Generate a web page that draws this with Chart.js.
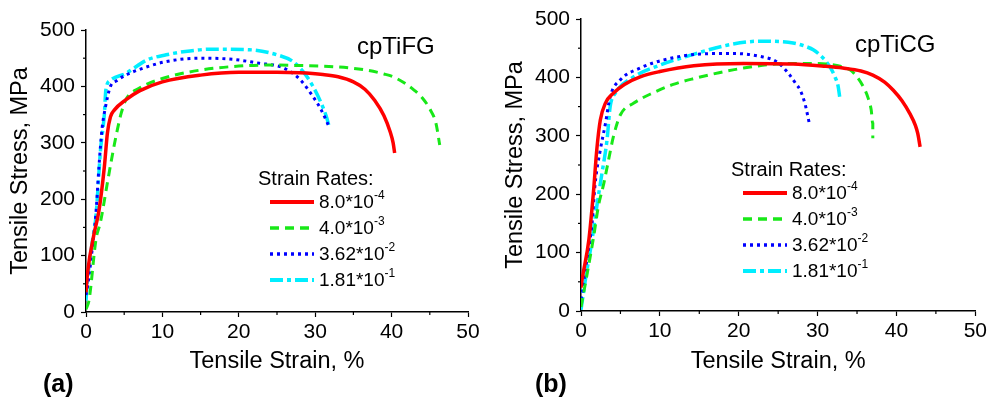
<!DOCTYPE html>
<html>
<head>
<meta charset="utf-8">
<script src="https://cdn.jsdelivr.net/npm/chart.js@4.4.1/dist/chart.umd.min.js"></script>
<style>
  body { margin: 0; background: #fff; }
  .panel { position: absolute; top: 0; width: 495px; height: 398px; }
</style>
</head>
<body>
<div class="panel" style="left:0"><canvas id="chartA"></canvas></div>
<div class="panel" style="left:495px"><canvas id="chartB"></canvas></div>
<script>
// strain rates (legend)
const rateBase = ['8.0*10', '4.0*10', '3.62*10', '1.81*10'];
const rateExp = ['-4', '-3', '-2', '-1'];
const xTicks = [0, 10, 20, 30, 40, 50];
const yTicks = [0, 100, 200, 300, 400, 500];

// cpTiFG: [strain %, stress MPa]
const fgRed = [[0,35],[0.2,69],[1,135],[1.7,180],[2.4,257],[2.8,317],[3.2,346],[3.7,358],[5.2,376],[7,392],[10,408],[15,420],[20,425],[25,425],[28,424],[31,421],[33,417],[35,408],[36.5,395],[37.8,375],[39,348],[39.8,320],[40.2,300],[40.4,282]];
const fgGreen = [[0,5],[0.4,21],[1.3,128],[1.9,160],[2.8,229],[3.5,282],[4.1,323],[4.6,352],[5.2,376],[7,397],[10,414],[15,429],[20,436],[24,438],[28,437],[32.4,435],[36.7,429],[39,422],[40.2,417],[41.8,405],[42.9,394],[44,380],[45,360],[45.8,335],[46.3,296]];
const fgBlue = [[0,30],[0.2,45],[0.8,110],[1.3,175],[1.7,258],[2.1,325],[2.5,360],[3.2,400],[4,410],[5.2,420],[7.4,432],[10.5,444],[14.9,450],[19.2,448],[22.7,441],[25.4,435],[27.1,423],[28.3,408],[29.4,388],[30.2,372],[30.8,358],[31.7,332]];
const fgCyan = [[0,20],[0.2,57],[0.8,122],[1.3,169],[1.9,287],[2.4,350],[2.6,394],[3.2,411],[5.2,423],[8,447],[10.5,456],[13,462],[16.6,466],[21.4,465],[25,456],[27.1,444],[28.5,425],[29.5,405],[30.6,376],[31.5,345],[31.8,330]];

// cpTiCG
const cgRed = [[0,40],[0.13,53],[1,122],[1.6,207],[2,276],[2.45,327],[3.1,356],[4.1,373],[5.5,388],[7.5,401],[10,410],[14.3,420],[20.6,424],[26.9,423],[31,419],[33.2,416],[35.5,411],[37,404],[38.5,392],[39.6,378],[40.7,360],[41.7,338],[42.4,318],[42.7,304],[43,281]];
const cgGreen = [[0,7],[0.8,65],[1.6,127],[2.2,179],[2.9,219],[3.5,259],[4.1,298],[5,336],[6.7,356],[9.2,374],[11.7,388],[14.3,398],[17.5,408],[20.6,416],[24.8,423],[28,424],[31.1,423],[32.6,420],[34.1,413],[35,401],[35.8,384],[36.4,365],[36.8,344],[37,320],[37,296]];
const cgBlue = [[0,20],[0.13,30],[0.8,93],[1.4,150],[1.8,219],[2.45,276],[3.1,321],[3.7,367],[5,396],[7.5,416],[10.5,430],[15.1,440],[19.3,441],[22.7,436],[24.8,427],[26.3,407],[27.2,390],[27.8,378],[28.4,355],[29,318]];
const cgCyan = [[0,2],[0.55,53],[1.4,122],[2,179],[2.66,236],[3.3,293],[3.7,350],[4.35,373],[6.7,401],[10,421],[13.4,436],[18.5,455],[22.7,462],[26.9,459],[28.5,453],[29.5,447],[30.4,437],[31.1,427],[31.7,415],[32.2,401],[32.6,385],[32.8,367]];

const styles = [
    { color: '#ff0000', width: 3.5, dash: [] },
    { color: '#18e818', width: 3, dash: [9, 6] },
    { color: '#0000ff', width: 3, dash: [3, 4] },
    { color: '#00eeff', width: 3.5, dash: [13, 4, 4, 4] }
];

const FONT = 'Arial, "Liberation Sans", sans-serif';

// minor ticks, legend and labels drawn on top
const extras = {
    id: 'extras',
    afterDraw(chart, args, opts) {
        const ctx = chart.ctx;
        const x = chart.scales.x, y = chart.scales.y;
        const area = chart.chartArea;
        ctx.save();
        ctx.strokeStyle = '#000';
        ctx.lineWidth = 1.2;
        for (let v = 5; v < 50; v += 10) {
            const px = x.getPixelForValue(v);
            ctx.beginPath(); ctx.moveTo(px, area.bottom); ctx.lineTo(px, area.bottom + 3); ctx.stroke();
        }
        for (let v = 50; v < 500; v += 100) {
            const py = y.getPixelForValue(v);
            ctx.beginPath(); ctx.moveTo(area.left, py); ctx.lineTo(area.left - 3, py); ctx.stroke();
        }

        ctx.fillStyle = '#000';
        ctx.textBaseline = 'middle';
        ctx.textAlign = 'left';
        ctx.font = '24px ' + FONT;
        ctx.fillText(opts.title, opts.titleX, opts.titleY);

        ctx.font = 'bold 25px ' + FONT;
        ctx.fillText(opts.tag, opts.tagX, 385);

        // legend
        ctx.font = '20px ' + FONT;
        ctx.fillText('Strain Rates:', opts.legX, opts.legY);
        chart.data.datasets.forEach((ds, i) => {
            const ly = opts.legY + 23 + i * 26;
            ctx.save();
            ctx.strokeStyle = ds.borderColor;
            ctx.lineWidth = ds.borderWidth + 0.5;
            ctx.setLineDash(ds.borderDash);
            ctx.beginPath(); ctx.moveTo(opts.legX + 12, ly); ctx.lineTo(opts.legX + 56, ly); ctx.stroke();
            ctx.restore();
            ctx.font = '19px ' + FONT;
            const tx = opts.legX + 61;
            ctx.fillText(rateBase[i], tx, ly + 1);
            const w = ctx.measureText(rateBase[i]).width;
            ctx.font = '12px ' + FONT;
            ctx.fillText(rateExp[i], tx + w, ly - 6);
        });
        ctx.restore();
    }
};

function makePanel(id, series, pad, xHeight, extra) {
    const datasets = series.map((pts, i) => ({
        label: rateBase[i] + rateExp[i],
        data: pts.map(p => ({ x: p[0], y: p[1] })),
        showLine: true,
        borderColor: styles[i].color,
        borderWidth: styles[i].width,
        borderDash: styles[i].dash,
        pointRadius: 0,
        cubicInterpolationMode: 'monotone',
        fill: false
    }));
    return new Chart(document.getElementById(id), {
        type: 'scatter',
        data: { datasets: datasets },
        options: {
            responsive: true,
            maintainAspectRatio: false,
            animation: false,
            layout: { padding: pad },
            plugins: { legend: { display: false }, tooltip: { enabled: false }, extras: extra },
            scales: {
                x: {
                    type: 'linear', min: 0, max: 50,
                    afterBuildTicks: s => { s.ticks = xTicks.map(v => ({ value: v })); },
                    afterFit: s => { s.height = xHeight; },
                    ticks: { color: '#000', padding: 3, font: { family: FONT, size: 21 }, maxRotation: 0 },
                    grid: { drawOnChartArea: false, drawTicks: true, tickLength: 5, tickColor: '#000', tickWidth: 1.2 },
                    border: { color: '#000', width: 1.5 },
                    title: { display: true, text: 'Tensile Strain, %', color: '#000', padding: 0, font: { family: FONT, size: 23.5 } }
                },
                y: {
                    type: 'linear', min: 0, max: 500,
                    afterBuildTicks: s => { s.ticks = yTicks.map(v => ({ value: v })); },
                    afterFit: s => { s.width = 80; },
                    ticks: { color: '#000', padding: 6, font: { family: FONT, size: 21 } },
                    grid: { drawOnChartArea: false, drawTicks: true, tickLength: 5, tickColor: '#000', tickWidth: 1.2 },
                    border: { color: '#000', width: 1.5 },
                    title: { display: true, text: 'Tensile Stress, MPa', color: '#000', padding: 0, font: { family: FONT, size: 23.5 } }
                }
            }
        },
        plugins: [extras]
    });
}

makePanel('chartA', [fgRed, fgGreen, fgBlue, fgCyan],
    { left: 6, top: 30, right: 27, bottom: 22 }, 64,
    { title: 'cpTiFG', titleX: 357, titleY: 47, tag: '(a)', tagX: 43, legX: 258, legY: 179 });
makePanel('chartB', [cgRed, cgGreen, cgBlue, cgCyan],
    { left: 6, top: 19, right: 13, bottom: 22 }, 65,
    { title: 'cpTiCG', titleX: 360, titleY: 45, tag: '(b)', tagX: 40, legX: 236, legY: 170 });
</script>
</body>
</html>
